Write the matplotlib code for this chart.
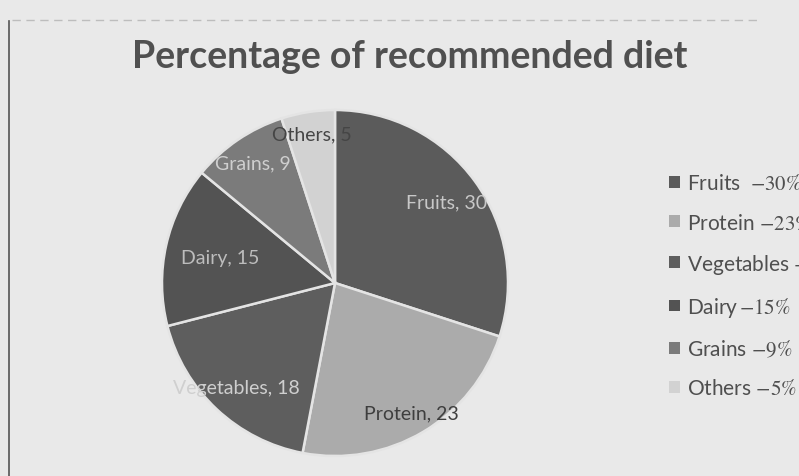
import matplotlib
matplotlib.use("Agg")
import matplotlib.pyplot as plt
import numpy as np
from matplotlib.patches import Patch
from matplotlib.lines import Line2D

categories = ["Fruits", "Protein", "Vegetables", "Dairy", "Grains", "Others"]
values = [30, 23, 18, 15, 9, 5]
legend_labels = ["Fruits  ${-}30\\%$", "Protein ${-}23\\%$", "Vegetables ${-}18\\%$",
                 "Dairy$\\,{-}15\\%$", "Grains ${-}9\\%$", "Others ${-}5\\%$"]
title = "Percentage of recommended diet"

colors = ["#5b5b5b", "#ababab", "#5e5e5e", "#535353", "#7b7b7b", "#d2d2d2"]
text_colors = ["#c8c8c8", "#3e3e3e", "#cfcfcf", "#bdbdbd", "#cfcfcf", "#454545"]
label_r = [0.80, 0.87, 0.83, 0.68, 0.84, 0.87]

plt.rcParams["font.family"] = ["Lato", "DejaVu Sans"]
plt.rcParams["mathtext.fontset"] = "stix"

W, H = 799, 477
fig = plt.figure(figsize=(W / 100, H / 100), dpi=100)
fig.patch.set_facecolor("#e9e9e9")

cx, cy, R = 335, 284, 173
ax = fig.add_axes([(cx - R) / W, (H - cy - R) / H, 2 * R / W, 2 * R / H])
ax.set_facecolor("none")
wedges, _ = ax.pie(values, colors=colors, startangle=90, counterclock=False,
                   wedgeprops=dict(edgecolor="#e4e4e4", linewidth=1.8))
ax.set_xlim(-1, 1)
ax.set_ylim(-1, 1)
ax.set_aspect("equal")
ax.axis("off")

for w, cat, v, r, tc in zip(wedges, categories, values, label_r, text_colors):
    th = np.deg2rad((w.theta1 + w.theta2) / 2)
    ax.text(r * np.cos(th), r * np.sin(th), f"{cat}, {v}", ha="center", va="center",
            fontsize=14, color=tc)

fig.text(410 / W, 1 - 57 / H, title, ha="center", va="center", fontsize=27,
         fontweight="bold", color="#505050")

handles = [Patch(facecolor=c, edgecolor="none") for c in colors]
leg = fig.legend(handles, legend_labels, loc="upper left",
                 bbox_to_anchor=(659 / W, 1 - 164 / H), frameon=False,
                 fontsize=15, handlelength=0.5, handleheight=0.5,
                 handletextpad=0.35, labelspacing=0.92, borderpad=0)
for t in leg.get_texts():
    t.set_color("#4f4f4f")

# scanned page border lines
fig.add_artist(Line2D([9 / W, 9 / W], [0, 1 - 22 / H], color="#555555", lw=1.2))
fig.add_artist(Line2D([12 / W, 760 / W], [1 - 21 / H, 1 - 21 / H], color="#bdbdbd",
                      lw=1.0, ls=(0, (6, 4))))

fig.savefig("out.png", dpi=100, facecolor=fig.get_facecolor())
